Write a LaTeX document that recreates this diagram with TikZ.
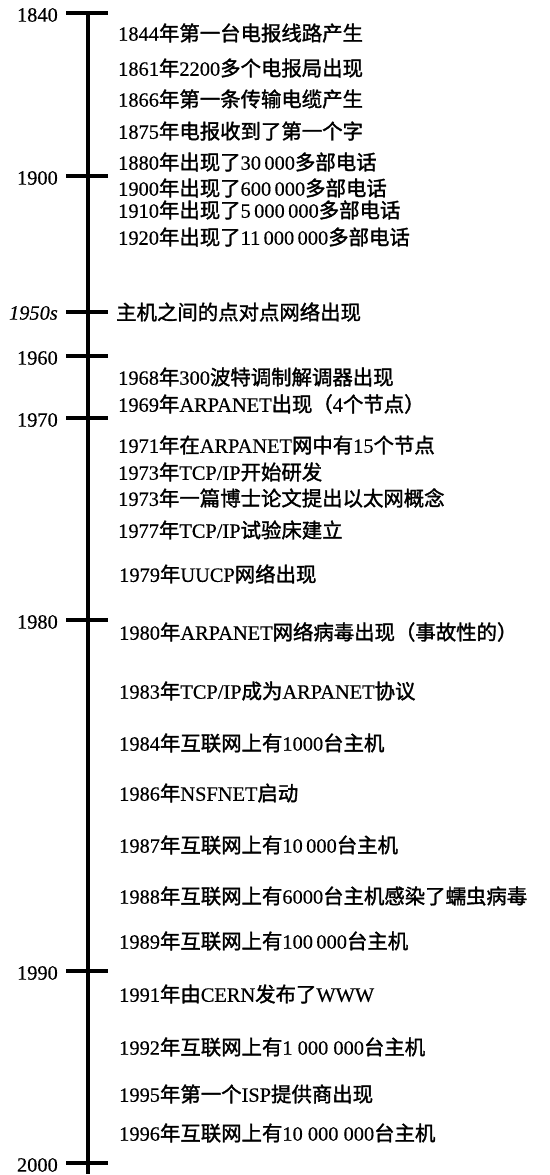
\documentclass[tikz,border=0pt]{standalone}
\usepackage{fontspec}
\setmainfont{Liberation Serif}[FakeBold=0.4]
\newfontfamily\cjk{Noto Sans CJK SC}[FakeBold=1.6]
\def\yeartick#1{\draw[line width=4pt] (66,#1) -- (108,#1);}
\tikzset{
  yearlabel/.style={anchor=east, inner sep=0pt, font=\fontsize{20.4}{24}\selectfont},
  event/.style={anchor=west, inner sep=0pt, font=\fontsize{20.4}{24}\selectfont}
}

\begin{document}
\begin{tikzpicture}[x=1pt,y=-1pt]
		\useasboundingbox (0,0) rectangle (549,1175);
		%%%%% AXIS %%%%%
		\draw[line width=4pt] (88,11) -- (88,1174);
		\yeartick{13}
		\yeartick{176}
		\yeartick{312}
		\yeartick{356}
		\yeartick{418}
		\yeartick{620}
		\yeartick{971}
		\yeartick{1163}
		
		\node[yearlabel] (y1840) at (58,15) {1840};
		\node[yearlabel] (y1900) at (58,178) {1900};
		\node[yearlabel] (y1950) at (58,313) {\itshape 1950s};
		\node[yearlabel] (y1960) at (58,358) {1960};
		\node[yearlabel] (y1970) at (58,420) {1970};
		\node[yearlabel] (y1980) at (58,622) {1980};
		\node[yearlabel] (y1990) at (58,973) {1990};
		\node[yearlabel] (y2000) at (58,1165) {2000};
		
		%%%%% EVENTS %%%%%
		\node[event] (e1844) at (118,33) {1844{\cjk 年第一台电报线路产生}};
		\node[event] (e1861) at (118,68) {1861{\cjk 年}2200{\cjk 多个电报局出现}};
		\node[event] (e1866) at (118,99) {1866{\cjk 年第一条传输电缆产生}};
		\node[event] (e1875) at (118,131) {1875{\cjk 年电报收到了第一个字}};
		\node[event] (e1880) at (118,162) {1880{\cjk 年出现了}30\,000{\cjk 多部电话}};
		\node[event] (e1900) at (118,188) {1900{\cjk 年出现了}600\,000{\cjk 多部电话}};
		\node[event] (e1910) at (118,210) {1910{\cjk 年出现了}5\,000\,000{\cjk 多部电话}};
		\node[event] (e1920) at (118,237) {1920{\cjk 年出现了}11\,000\,000{\cjk 多部电话}};
		\node[event] (e1950) at (116,312) {{\cjk 主机之间的点对点网络出现}};
		\node[event] (e1968) at (118,377) {1968{\cjk 年}300{\cjk 波特调制解调器出现}};
		\node[event] (e1969) at (118,404) {1969{\cjk 年}ARPANET{\cjk 出现（}4{\cjk 个节点）}};
		\node[event] (e1971) at (118,445) {1971{\cjk 年在}ARPANET{\cjk 网中有}15{\cjk 个节点}};
		\node[event] (e1973a) at (118,472) {1973{\cjk 年}TCP/IP{\cjk 开始研发}};
		\node[event] (e1973b) at (118,498) {1973{\cjk 年一篇博士论文提出以太网概念}};
		\node[event] (e1977) at (118,530) {1977{\cjk 年}TCP/IP{\cjk 试验床建立}};
		\node[event] (e1979) at (119,574) {1979{\cjk 年}UUCP{\cjk 网络出现}};
		\node[event] (e1980) at (119,632) {1980{\cjk 年}ARPANET{\cjk 网络病毒出现（事故性的）}};
		\node[event] (e1983) at (119,691) {1983{\cjk 年}TCP/IP{\cjk 成为}ARPANET{\cjk 协议}};
		\node[event] (e1984) at (119,743) {1984{\cjk 年互联网上有}1000{\cjk 台主机}};
		\node[event] (e1986) at (119,793) {1986{\cjk 年}NSFNET{\cjk 启动}};
		\node[event] (e1987) at (119,845) {1987{\cjk 年互联网上有}10\,000{\cjk 台主机}};
		\node[event] (e1988) at (119,896) {1988{\cjk 年互联网上有}6000{\cjk 台主机感染了蠕虫病毒}};
		\node[event] (e1989) at (119,941) {1989{\cjk 年互联网上有}100\,000{\cjk 台主机}};
		\node[event] (e1991) at (119,994) {1991{\cjk 年由}CERN{\cjk 发布了}WWW};
		\node[event] (e1992) at (119,1047) {1992{\cjk 年互联网上有}1~000~000{\cjk 台主机}};
		\node[event] (e1995) at (119,1094) {1995{\cjk 年第一个}ISP{\cjk 提供商出现}};
		\node[event] (e1996) at (119,1133) {1996{\cjk 年互联网上有}10~000~000{\cjk 台主机}};
	\end{tikzpicture}
\end{document}
